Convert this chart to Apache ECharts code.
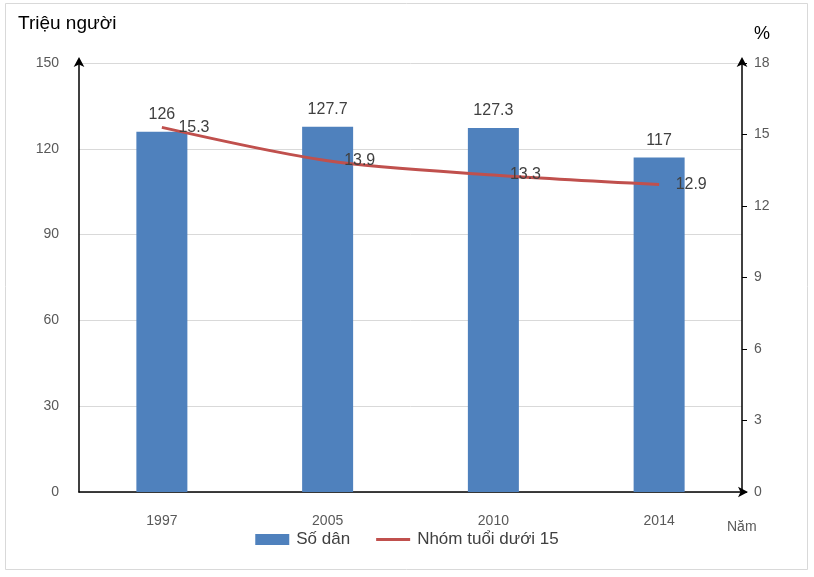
<!DOCTYPE html>
<html>
<head>
<meta charset="utf-8">
<script src="https://cdn.jsdelivr.net/npm/echarts@6/dist/echarts.min.js"></script>
<style>
html,body{margin:0;padding:0;background:#fff;}
#c{width:814px;height:577px;}
</style>
</head>
<body>
<div id="c"></div>
<script>
const years = ['1997', '2005', '2010', '2014'];
const population = [126, 127.7, 127.3, 117];
const under15 = [15.3, 13.9, 13.3, 12.9];
const leftTicks = [0, 150, 30];
const rightTicks = [0, 18, 3];

const FONT = "'Liberation Sans', Arial, sans-serif";
const chart = echarts.init(document.getElementById('c'), null, {renderer: 'canvas'});
chart.setOption({
  backgroundColor: '#fff',
  animation: false,
  textStyle: {fontFamily: FONT},
  grid: {left: 79, right: 72, top: 63, bottom: 85, containLabel: false},
  graphic: [
    {type: 'rect', shape: {x: 5.5, y: 3.5, width: 802, height: 566}, style: {fill: 'none', stroke: '#d9d9d9', lineWidth: 1}, silent: true},
    {type: 'text', left: 18, top: 14, style: {text: 'Triệu người', font: '19px ' + FONT, fill: '#000'}},
    {type: 'text', left: 754, top: 25, style: {text: '%', font: '18px ' + FONT, fill: '#000'}},
    {type: 'text', left: 727, top: 520, style: {text: 'Năm', font: '14px ' + FONT, fill: '#595959'}}
  ],
  legend: {
    bottom: 24,
    left: 'center',
    itemGap: 26,
    itemWidth: 34,
    itemHeight: 11,
    textStyle: {fontFamily: FONT, fontSize: 17, color: '#404040', padding: [0, 0, 0, 2]},
    data: [
      {name: 'Số dân', icon: 'rect'},
      {name: 'Nhóm tuổi dưới 15', icon: 'path://M0,0H34V3H0Z', itemStyle: {color: '#C0504D'}}
    ]
  },
  xAxis: {
    type: 'category',
    data: years,
    axisLine: {show: true, symbol: ['none', 'arrow'], symbolSize: [8, 10], symbolOffset: [0, 6], lineStyle: {color: '#000', width: 1.5}},
    axisTick: {show: false},
    axisLabel: {color: '#595959', fontSize: 14, margin: 22, fontFamily: FONT}
  },
  yAxis: [
    {
      type: 'value', min: leftTicks[0], max: leftTicks[1], interval: leftTicks[2],
      position: 'left',
      axisLine: {show: true, symbol: ['none', 'arrow'], symbolSize: [8, 10], symbolOffset: [0, 6], lineStyle: {color: '#000', width: 1.5}},
      axisTick: {show: false},
      axisLabel: {color: '#595959', fontSize: 14, margin: 20, fontFamily: FONT},
      splitLine: {show: true, lineStyle: {color: '#d9d9d9', width: 1}}
    },
    {
      type: 'value', min: rightTicks[0], max: rightTicks[1], interval: rightTicks[2],
      position: 'right',
      axisLine: {show: true, symbol: ['none', 'arrow'], symbolSize: [8, 10], symbolOffset: [0, 6], lineStyle: {color: '#000', width: 1.5}},
      axisTick: {show: true, length: 5, lineStyle: {color: '#000'}},
      axisLabel: {color: '#595959', fontSize: 14, margin: 12, fontFamily: FONT},
      splitLine: {show: false}
    }
  ],
  series: [
    {
      name: 'Số dân',
      type: 'bar',
      data: population,
      barWidth: 51,
      itemStyle: {color: '#4F81BD'},
      label: {show: true, position: 'top', distance: 9, color: '#404040', fontSize: 16, fontFamily: FONT}
    },
    {
      name: 'Nhóm tuổi dưới 15',
      type: 'line',
      yAxisIndex: 1,
      data: under15,
      smooth: 0.3,
      symbol: 'circle',
      symbolSize: 1,
      showSymbol: true,
      lineStyle: {color: '#C0504D', width: 3},
      itemStyle: {color: 'rgba(0,0,0,0)'},
      label: {show: true, position: 'right', distance: 16, color: '#404040', fontSize: 16, fontFamily: FONT},
      z: 5
    }
  ]
});
</script>
</body>
</html>
